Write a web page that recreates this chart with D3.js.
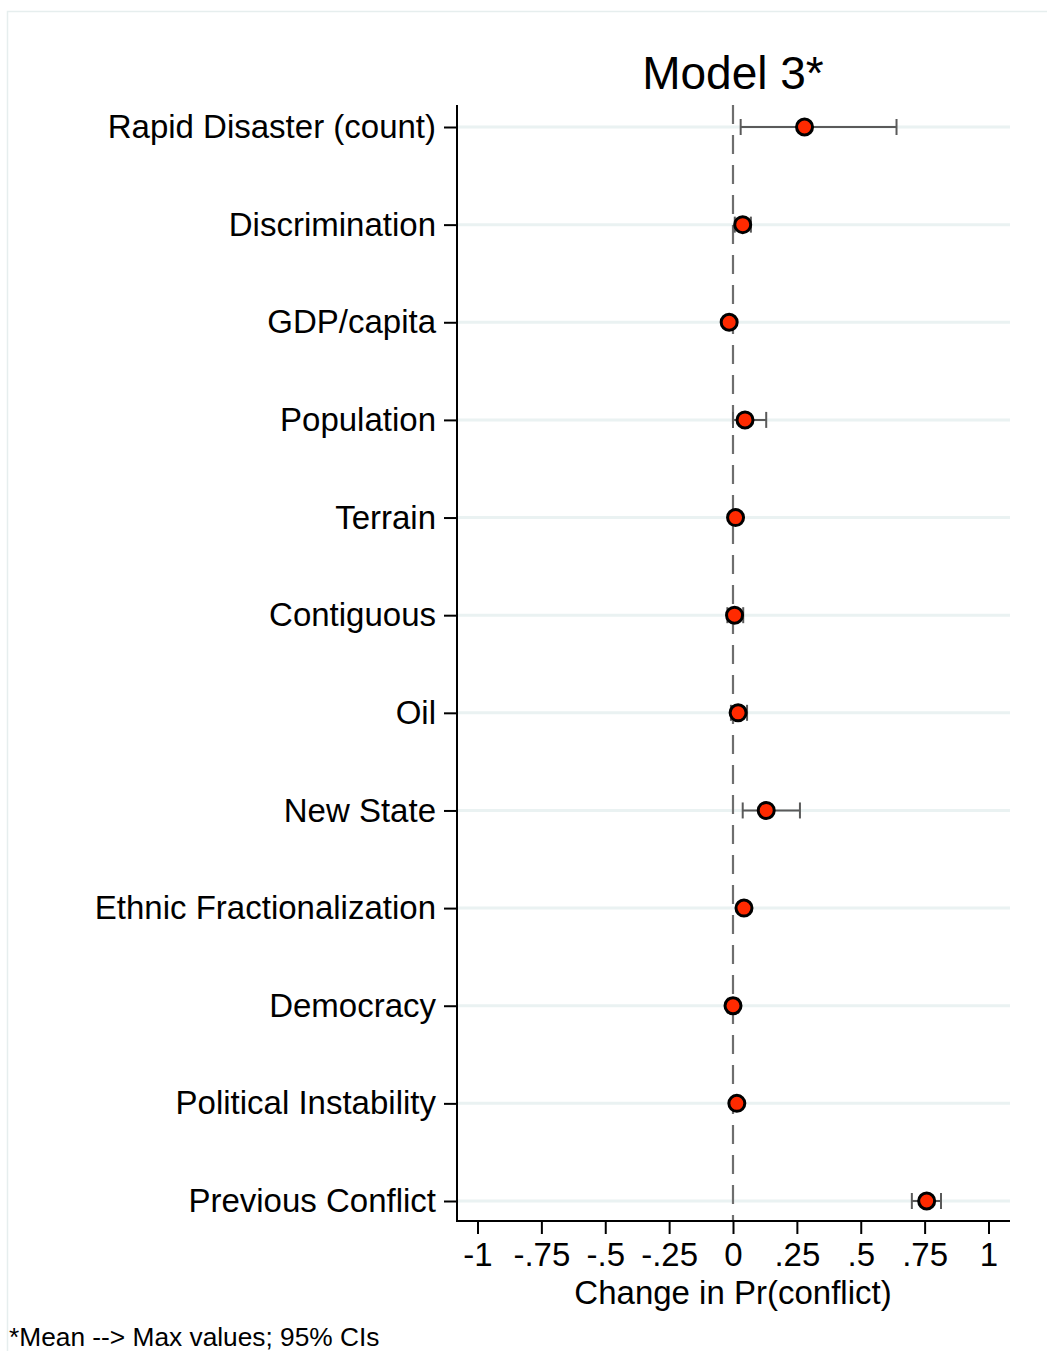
<!DOCTYPE html>
<html lang="en">
<head>
    <meta charset="UTF-8">
    <title>Model 3 coefficient plot</title>
    <script src="https://cdn.jsdelivr.net/npm/d3@7/dist/d3.min.js"></script>
    <style>
        body { margin: 0; background: #fff; }
        svg text { font-family: "Liberation Sans", Arial, Helvetica, sans-serif; fill: #000; }
        svg g.axis line, svg g.axis path { stroke: #000; stroke-width: 2; }
    </style>
</head>
<body>
    <script>
        // data
        var categories = ["Rapid Disaster (count)", "Discrimination", "GDP/capita", "Population",
            "Terrain", "Contiguous", "Oil", "New State", "Ethnic Fractionalization",
            "Democracy", "Political Instability", "Previous Conflict"];
        var estimates = [0.28, 0.038, -0.015, 0.047, 0.01, 0.006, 0.02, 0.13, 0.043, 0.0, 0.015, 0.758];
        var ciLow = [0.03, 0.007, -0.025, 0.0, 0.0, -0.022, -0.008, 0.038, 0.028, -0.02, 0.002, 0.70];
        var ciHigh = [0.64, 0.07, -0.005, 0.13, 0.02, 0.04, 0.055, 0.262, 0.058, 0.02, 0.03, 0.814];
        var xTicks = [-1, -0.75, -0.5, -0.25, 0, 0.25, 0.5, 0.75, 1];

        // layout
        var w = 1047, h = 1351;
        var plotLeft = 457, plotRight = 1010, plotTop = 105, plotBottom = 1221;

        var svg = d3.select("body").append("svg")
            .attr("width", w)
            .attr("height", h);

        // faint outer frame
        svg.append("rect")
            .attr("x", 7.5).attr("y", 11.5)
            .attr("width", w + 10).attr("height", h + 10)
            .attr("fill", "none")
            .attr("stroke", "#e6eeee")
            .attr("stroke-width", 1.5);

        var xScale = d3.scaleLinear()
            .domain([-1, 1])
            .range([477.5, 988.5]);

        var yScale = d3.scalePoint()
            .domain(categories)
            .range([127, 1201]);

        // grid lines
        svg.selectAll("line.grid")
            .data(categories)
            .enter()
            .append("line")
            .attr("class", "grid")
            .attr("x1", plotLeft).attr("x2", plotRight)
            .attr("y1", function(d) { return yScale(d); })
            .attr("y2", function(d) { return yScale(d); })
            .attr("stroke", "#eaf2f2")
            .attr("stroke-width", 3);

        // zero reference line
        svg.append("line")
            .attr("x1", xScale(0)).attr("x2", xScale(0))
            .attr("y1", plotTop).attr("y2", plotBottom)
            .attr("stroke", "#6e6e6e")
            .attr("stroke-width", 2.2)
            .attr("stroke-dasharray", "19,11");

        // axes
        var fmt = function(d) {
            if (d === 0) return "0";
            return String(d).replace("0.", ".");
        };

        var xAxis = d3.axisBottom(xScale)
            .tickValues(xTicks)
            .tickFormat(fmt)
            .tickSize(13)
            .tickSizeOuter(0)
            .tickPadding(9);

        var gx = svg.append("g")
            .attr("class", "axis")
            .attr("transform", "translate(0," + plotBottom + ")")
            .call(xAxis);
        gx.select(".domain").remove();
        gx.selectAll("text").attr("font-size", "33px");

        var yAxis = d3.axisLeft(yScale)
            .tickSize(13)
            .tickSizeOuter(0)
            .tickPadding(8);

        var gy = svg.append("g")
            .attr("class", "axis")
            .attr("transform", "translate(" + plotLeft + ",0)")
            .call(yAxis);
        gy.select(".domain").remove();
        gy.selectAll("text").attr("font-size", "33px");

        // axis lines
        svg.append("path")
            .attr("d", "M" + plotLeft + "," + plotTop + "V" + plotBottom + "H" + plotRight)
            .attr("fill", "none")
            .attr("stroke", "#000")
            .attr("stroke-width", 2);

        // confidence intervals
        var rows = categories.map(function(c, i) {
            return { cat: c, est: estimates[i], lo: ciLow[i], hi: ciHigh[i] };
        });

        var ci = svg.selectAll("g.ci")
            .data(rows)
            .enter()
            .append("g")
            .attr("class", "ci")
            .attr("stroke", "#5a5a5a")
            .attr("stroke-width", 2);

        ci.append("line")
            .attr("x1", function(d) { return xScale(d.lo); })
            .attr("x2", function(d) { return xScale(d.hi); })
            .attr("y1", function(d) { return yScale(d.cat); })
            .attr("y2", function(d) { return yScale(d.cat); });
        ci.append("line")
            .attr("x1", function(d) { return xScale(d.lo); })
            .attr("x2", function(d) { return xScale(d.lo); })
            .attr("y1", function(d) { return yScale(d.cat) - 8; })
            .attr("y2", function(d) { return yScale(d.cat) + 8; });
        ci.append("line")
            .attr("x1", function(d) { return xScale(d.hi); })
            .attr("x2", function(d) { return xScale(d.hi); })
            .attr("y1", function(d) { return yScale(d.cat) - 8; })
            .attr("y2", function(d) { return yScale(d.cat) + 8; });

        // point estimates
        svg.selectAll("circle.pt")
            .data(rows)
            .enter()
            .append("circle")
            .attr("class", "pt")
            .attr("cx", function(d) { return xScale(d.est); })
            .attr("cy", function(d) { return yScale(d.cat); })
            .attr("r", 8)
            .attr("fill", "#ff2a00")
            .attr("stroke", "#000")
            .attr("stroke-width", 3);

        // title and labels
        svg.append("text")
            .attr("x", xScale(0))
            .attr("y", 89)
            .attr("text-anchor", "middle")
            .attr("font-size", "46px")
            .text("Model 3*");

        svg.append("text")
            .attr("x", xScale(0))
            .attr("y", 1304)
            .attr("text-anchor", "middle")
            .attr("font-size", "33px")
            .text("Change in Pr(conflict)");

        svg.append("text")
            .attr("x", 9)
            .attr("y", 1346)
            .attr("font-size", "26.3px")
            .text("*Mean --> Max values; 95% CIs");
    </script>
</body>
</html>
